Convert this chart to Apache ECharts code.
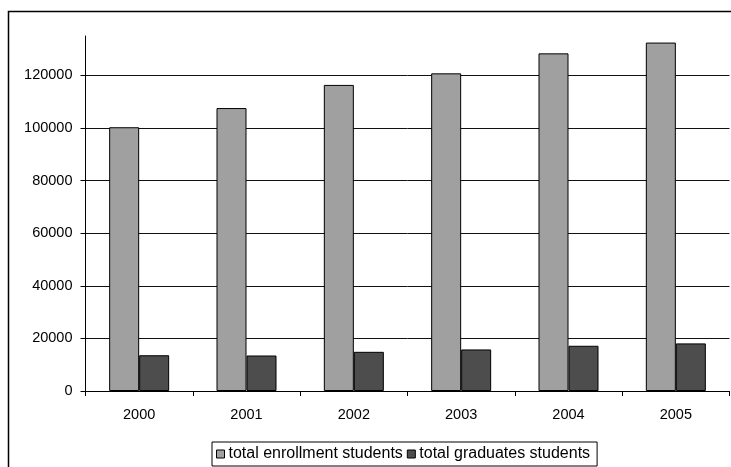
<!DOCTYPE html>
<html>
<head>
<meta charset="utf-8">
<script src="https://cdn.jsdelivr.net/npm/echarts@6/dist/echarts.min.js"></script>
<style>
html,body{margin:0;padding:0;background:#fff;}
#c{width:731px;height:467px;}
</style>
</head>
<body>
<div id="c"></div>
<script>
const years = ['2000','2001','2002','2003','2004','2005'];
const enrollment = [100300, 107600, 116400, 120800, 128400, 132500];
const graduates = [13600, 13500, 14900, 15800, 17200, 18100];
const seriesNames = ['total enrollment students', 'total graduates students'];

const chart = echarts.init(document.getElementById('c'), null, {renderer: 'canvas'});
const font = '"Liberation Sans", Arial, sans-serif';
chart.setOption({
  animation: false,
  backgroundColor: '#fff',
  textStyle: {fontFamily: font, color: '#000'},
  graphic: [{
    type: 'rect',
    shape: {x: 8.5, y: 11.5, width: 760, height: 500},
    style: {fill: 'none', stroke: '#000', lineWidth: 1.5},
    silent: true, z: 100
  }],
  grid: {left: 85.5, right: 1.5, top: 36, bottom: 76, containLabel: false},
  legend: {
    data: seriesNames,
    left: 212, top: 442,
    orient: 'horizontal',
    padding: [4, 7, 4, 4],
    borderColor: '#000', borderWidth: 1,
    itemWidth: 8, itemHeight: 8, itemGap: 4,
    icon: 'rect',
    itemStyle: {borderColor: '#000', borderWidth: 1},
    textStyle: {fontSize: 16, color: '#000', fontFamily: font, padding: [0, 0, 0, -1]}
  },
  xAxis: {
    type: 'category',
    data: years,
    axisLine: {lineStyle: {color: '#000', width: 1}},
    axisTick: {show: true, length: 5, lineStyle: {color: '#000'}},
    axisLabel: {fontSize: 14.5, color: '#000', margin: 16, fontFamily: font}
  },
  yAxis: {
    type: 'value',
    min: 0, max: 135000, interval: 20000,
    axisLine: {show: true, lineStyle: {color: '#000', width: 1}},
    axisTick: {show: true, length: 5, lineStyle: {color: '#000'}},
    axisLabel: {fontSize: 14.5, color: '#000', margin: 13, showMaxLabel: false, fontFamily: font,
      formatter: function (v) { return String(v); }},
    splitLine: {show: true, lineStyle: {color: ['#111','#111','#111','#111','#111','#111','#111','rgba(0,0,0,0)'], width: 1}}
  },
  series: [
    {
      name: seriesNames[0], type: 'bar', data: enrollment,
      barWidth: 30, barGap: '0%',
      itemStyle: {color: '#a0a0a0', borderColor: '#000', borderWidth: 1}
    },
    {
      name: seriesNames[1], type: 'bar', data: graduates,
      barWidth: 30, barGap: '0%',
      itemStyle: {color: '#4d4d4d', borderColor: '#000', borderWidth: 1}
    }
  ]
});
</script>
</body>
</html>
